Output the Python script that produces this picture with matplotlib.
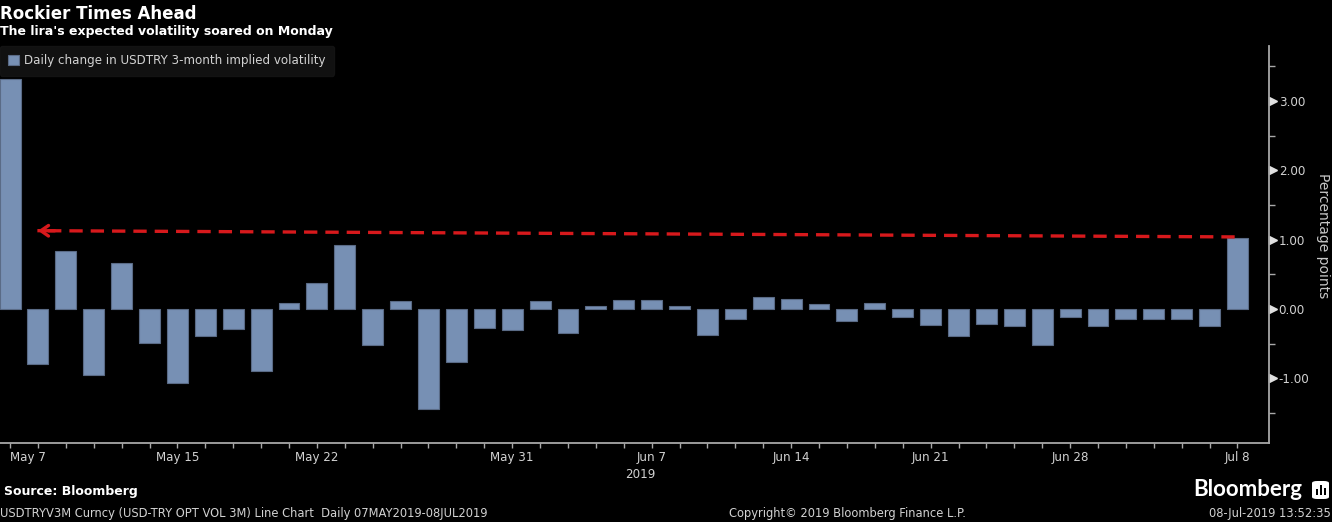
import matplotlib
matplotlib.use("Agg")
import matplotlib.pyplot as plt
from matplotlib import font_manager
from matplotlib.patches import FancyBboxPatch, Rectangle
import pandas as pd

# data: daily change in USDTRY 3m implied vol (percentage points), business days
dates = pd.bdate_range("2019-05-07", "2019-07-08")
changes = [3.32, -0.79, 0.84, -0.95, 0.66, -0.49, -1.07, -0.39, -0.29, -0.89,
           0.08, 0.38, 0.93, -0.52, 0.12, -1.45, -0.77, -0.28, -0.30, 0.12,
           -0.35, 0.04, 0.13, 0.13, 0.04, -0.37, -0.14, 0.18, 0.14, 0.07,
           -0.18, 0.08, -0.11, -0.23, -0.39, -0.21, -0.25, -0.52, -0.12, -0.25,
           -0.14, -0.15, -0.14, -0.25, 1.03]
tick_dates = ["2019-05-07", "2019-05-15", "2019-05-22", "2019-05-31", "2019-06-07",
              "2019-06-14", "2019-06-21", "2019-06-28", "2019-07-08"]
tick_labels = ["May 7", "May 15", "May 22", "May 31", "Jun 7",
               "Jun 14", "Jun 21", "Jun 28", "Jul 8"]
y_ticks = [-1, 0, 1, 2, 3]

# use a condensed face if the system has one
installed = {f.name for f in font_manager.fontManager.ttflist}
narrow = "Liberation Sans Narrow" if "Liberation Sans Narrow" in installed else "DejaVu Sans"
small = 9.5 if narrow != "DejaVu Sans" else 8.6

BAR = "#7790b4"
TXT = "#d2d2d2"
AXC = "#a8a8a8"
RED = "#d7191c"

fig = plt.figure(figsize=(13.32, 5.22), dpi=100, facecolor="black")
ax = fig.add_axes([0, 79 / 522, 1269 / 1332, 397 / 522])
ax.set_facecolor("black")

x = list(range(len(dates)))
ax.bar(x, changes, width=0.75, color=BAR, edgecolor="#5a6b86", linewidth=0.8,
       label="Daily change in USDTRY 3-month implied volatility", zorder=2)

ax.set_xlim(-0.36, 45.13)
ax.set_ylim(-1.934, 3.795)

for s in ["left", "top"]:
    ax.spines[s].set_visible(False)
for s in ["right", "bottom"]:
    ax.spines[s].set_color(AXC)
    ax.spines[s].set_linewidth(1.3)

# x axis: small tick for every day, labels on some
pos = [list(dates).index(pd.Timestamp(d)) for d in tick_dates]
ax.set_xticks(pos)
ax.set_xticklabels(tick_labels, fontfamily=narrow, fontsize=small, color=TXT)
ax.set_xticks(x, minor=True)
ax.tick_params(axis="x", which="both", direction="out", length=3.5, width=1,
               color=AXC, pad=2)
ax.get_xticklabels()[0].set_ha("left")
ax.text(22.6, -0.063, "2019", transform=ax.get_xaxis_transform(), ha="center",
        va="top", fontfamily=narrow, fontsize=small, color=TXT)

# y axis on the right, triangle markers at the major ticks
ax.yaxis.tick_right()
ax.set_yticks(y_ticks)
ax.set_yticklabels([f"{v:.2f}" for v in y_ticks], fontfamily=narrow,
                   fontsize=small, color=TXT)
ax.set_yticks([-1.5, -0.5, 0.5, 1.5, 2.5, 3.5], minor=True)
ax.tick_params(axis="y", which="major", length=0, pad=7)
ax.tick_params(axis="y", which="minor", direction="out", length=4, width=1,
               color=AXC)
ax.plot([1.0032] * len(y_ticks), y_ticks, ls="none", marker=">", ms=6,
        color="#e0e0e0", transform=ax.get_yaxis_transform(), clip_on=False)
fig.text(1323 / 1332, 1 - 236 / 522, "Percentage points", rotation=270,
         ha="center", va="center", fontsize=10, color="#c8c8c8")

# red dashed arrow from the last bar back to the first
ax.plot([43.9, 0.98], [changes[-1] + 0.01, 1.13], color=RED, lw=2.4,
        dashes=(4, 2.4), zorder=3)
ax.annotate("", xy=(0.9, 1.13), xytext=(1.7, 1.128),
            arrowprops=dict(arrowstyle="->,head_length=0.55,head_width=0.38",
                            color=RED, lw=2.4), zorder=3)

# legend
leg = ax.legend(loc="upper left", bbox_to_anchor=(0.0, 1.0), borderaxespad=0,
                frameon=True, facecolor="#161616", edgecolor="#161616",
                handlelength=0.9, handleheight=0.9, handletextpad=0.45,
                borderpad=0.7, prop={"family": narrow, "size": small})
for t in leg.get_texts():
    t.set_color(TXT)
leg.set_zorder(5)

# titles
fig.text(0.0, 1 - 14 / 522, "Rockier Times Ahead", ha="left", va="center",
         fontsize=12, fontweight="bold", color="white")
fig.text(0.0, 1 - 32 / 522, "The lira's expected volatility soared on Monday",
         ha="left", va="center", fontsize=9, fontweight="bold", color="white")

# footer
fig.text(4 / 1332, 1 - 492 / 522, "Source: Bloomberg", ha="left", va="center",
         fontsize=9, fontweight="bold", color="white")
fig.text(0.0, 1 - 513 / 522,
         "USDTRYV3M Curncy (USD-TRY OPT VOL 3M) Line Chart  Daily 07MAY2019-08JUL2019",
         ha="left", va="center", fontfamily=narrow, fontsize=small - 0.3, color=TXT)
fig.text(847 / 1332, 1 - 513 / 522, "Copyright\u00a9 2019 Bloomberg Finance L.P.",
         ha="center", va="center", fontfamily=narrow, fontsize=small - 0.3, color=TXT)
fig.text(1331 / 1332, 1 - 513 / 522, "08-Jul-2019 13:52:35", ha="right",
         va="center", fontfamily=narrow, fontsize=small - 0.3, color=TXT)
fig.text(1302 / 1332, 1 - 489 / 522, "Bloomberg", ha="right", va="center",
         fontsize=16, fontweight="bold", color="white", fontfamily="Lato")

# small logo box
W, H = 1332, 522
fig.patches.append(FancyBboxPatch((1312 / W, 1 - 499 / H), 17 / W, 18 / H,
                                  boxstyle="round,pad=0,rounding_size=0.004",
                                  transform=fig.transFigure, facecolor="white",
                                  edgecolor="none"))
for bx, bh in [(1315.5, 6), (1319.5, 10), (1323.5, 7)]:
    fig.patches.append(Rectangle((bx / W, 1 - 495 / H), 2.2 / W, bh / H,
                                 transform=fig.transFigure, facecolor="black",
                                 edgecolor="none"))

fig.savefig("out.png", dpi=100, facecolor="black")
